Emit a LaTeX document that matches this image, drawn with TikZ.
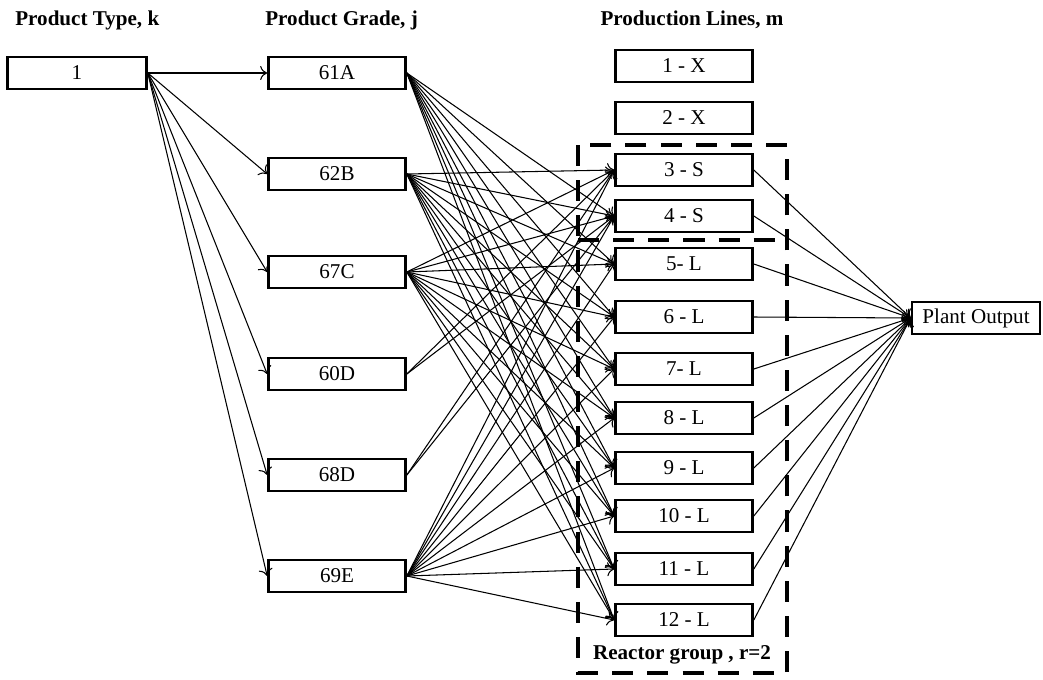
\documentclass[tikz,border=0pt]{standalone}
\usepackage{fontspec}
\setmainfont{Liberation Serif}
\usetikzlibrary{positioning}
\usetikzlibrary{calc}
\usetikzlibrary{arrows.meta}

\tikzset{
	cellbox/.style={draw, line width=1.5pt, minimum width=2.74cm, minimum height=0.64cm, inner sep=0pt, font=\fontsize{12}{14}\selectfont},
	header/.style={font=\fontsize{12}{14}\selectfont\bfseries, inner sep=0pt},
	flow/.style={-{To[length=4pt,width=8pt]}, line width=0.6pt},
	group/.style={line width=2.3pt, dash pattern=on 12pt off 8pt}
}

\begin{document}
\begin{tikzpicture}[x=0.02cm, y=-0.02cm]
			\useasboundingbox (0,0) rectangle (1043,679);
			% column headers
			\node[header, anchor=west] (htype) at (15,20) {Product Type, k};
			\node[header, anchor=west] (hgrade) at (265,20) {Product Grade, j};
			\node[header] (hline) at (692,20) {Production Lines, m};
			% product type
			\node[cellbox, minimum width=2.78cm] (k1) at (77,73) {1};
			% product grades
			\foreach \name/\y in {61A/73, 62B/174, 67C/272, 60D/374, 68D/475, 69E/576}
				\node[cellbox] (g\name) at (337,\y) {\name};
			% production lines
			\foreach \m/\lbl/\y in {1/1 - X/66, 2/2 - X/118, 3/3 - S/170, 4/4 - S/216, 5/5- L/264, 6/6 - L/317, 7/7- L/369, 8/8 - L/418, 9/9 - L/468, 10/10 - L/516, 11/11 - L/569, 12/12 - L/620}
				\node[cellbox] (m\m) at (684,\y) {\lbl};
			% plant output
			\node[cellbox, minimum width=2.56cm] (out) at (976,318) {Plant Output};
			% type to grades
			\foreach \g in {61A,62B,67C,60D,68D,69E}
				\draw[flow] (k1.east) -- (g\g.west);
			% grades to lines
			\foreach \m in {4,...,12}
				\draw[flow] (g61A.east) -- (m\m.west);
			\foreach \m in {3,...,12}
				\draw[flow] (g62B.east) -- (m\m.west);
			\foreach \m in {3,...,12}
				\draw[flow] (g67C.east) -- (m\m.west);
			\foreach \m in {3,4}
				\draw[flow] (g60D.east) -- (m\m.west);
			\foreach \m in {3,4}
				\draw[flow] (g68D.east) -- (m\m.west);
			\foreach \m in {3,...,12}
				\draw[flow] (g69E.east) -- (m\m.west);
			% lines to output
			\foreach \m in {3,...,12}
				\draw[flow] (m\m.east) -- (out.west);
			% reactor group
			\coordinate (gtl) at (578,145);
			\coordinate (gbr) at (787,673);
			\draw[group] (gtl) rectangle (gbr);
			\draw[group] (gtl |- 0,240) -- (gbr |- 0,240);
			\node[header] (rgroup) at (682,655) {Reactor group , r=2};
		\end{tikzpicture}
\end{document}
